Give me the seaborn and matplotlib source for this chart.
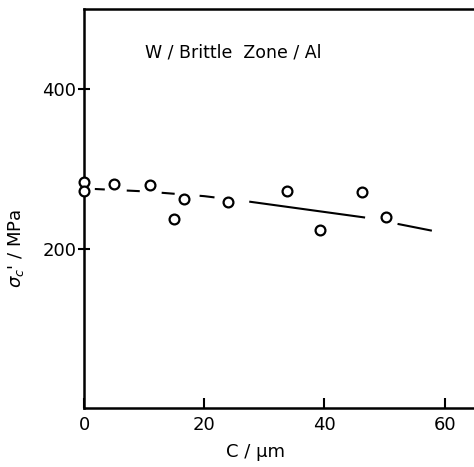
import matplotlib
matplotlib.use("Agg")
import matplotlib.pyplot as plt
import seaborn as sns
import pandas as pd

# measured points: crack length C (um) vs fracture stress (MPa)
c_um = [0.0, 0.0, 5.0, 10.9, 15.0, 16.6, 24.0, 33.7, 39.2, 46.3, 50.2]
sigma_mpa = [284, 272, 281, 280, 237, 263, 259, 272, 223, 271, 240]

# hand-drawn trend line
trend_x = [1.8, 10, 20, 27.6, 46.9, 58.3]
trend_y = [275, 272, 266, 259, 239, 222]

x_ticks = [0, 20, 40, 60]
y_ticks = [200, 400]

sns.set_style("ticks")
plt.rcParams['font.family'] = ['DejaVu Sans']
plt.rcParams['lines.scale_dashes'] = False
for key in ['text.color', 'axes.labelcolor', 'xtick.color', 'ytick.color']:
    plt.rcParams[key] = 'black'

pts = pd.DataFrame({'C': c_um, 'sigma': sigma_mpa})
trend = pd.DataFrame({'C': trend_x, 'sigma': trend_y})

fig = plt.figure(figsize=(4.74, 4.67), dpi=100)
ax = fig.add_axes([84 / 474, 1 - 408 / 467, 389 / 474, 399 / 467])

# dashes in points, roughly as drawn in the original
dash = (0, (7.2, 15.8, 9.4, 15.8, 9.4, 18, 10.8, 25.2, 84.2, 23.8, 25.2, 50))
sns.lineplot(data=trend, x='C', y='sigma', color='black', linewidth=1.5,
             linestyle=dash, ax=ax)

sns.scatterplot(data=pts, x='C', y='sigma', s=50, marker='o',
                facecolor='white', edgecolor='black', linewidth=1.6,
                zorder=5, clip_on=False, ax=ax)

ax.set_xlim(0, 64.7)
ax.set_ylim(0, 501)
ax.set_xticks(x_ticks)
ax.set_yticks(y_ticks)

for side in ['left', 'bottom', 'top']:
    ax.spines[side].set_linewidth(1.8)
    ax.spines[side].set_color('black')
ax.spines['right'].set_visible(False)

ax.tick_params(axis='x', direction='in', length=7, width=1.5, labelsize=13, pad=6)
ax.tick_params(axis='y', direction='inout', length=9, width=1.5, labelsize=13, pad=1)

ax.set_xlabel('C / μm', fontsize=13)
ax.set_ylabel(r"$\sigma_c$' / MPa", fontsize=13)
ax.xaxis.set_label_coords(0.44, -0.088)
ax.yaxis.set_label_coords(-0.15, 0.40)

ax.text(0.157, 0.89, 'W / Brittle  Zone / Al', transform=ax.transAxes,
        fontsize=12.5, va='center', ha='left')

fig.savefig('out.png', dpi=100)
